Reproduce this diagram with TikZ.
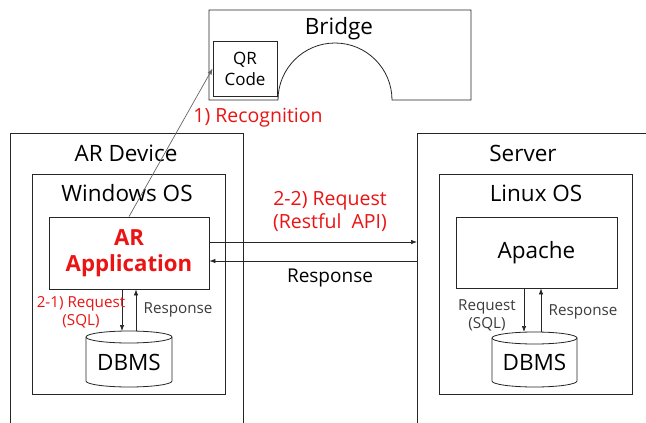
\documentclass[tikz,border=0pt]{standalone}
\usepackage{fontspec}
\setmainfont{Open Sans}
\usetikzlibrary{arrows.meta}
\definecolor{lred}{RGB}{235,20,20}
\definecolor{dgray}{RGB}{60,60,60}
\tikzset{
  box/.style={draw=black!85, line width=0.8pt, fill=white, inner sep=0pt},
  ttl/.style={font=\fontsize{22.5}{26}\selectfont, text=black},
  lbl/.style={font=\fontsize{19.5}{23}\selectfont, align=center},
  sml/.style={font=\fontsize{15.2}{18}\selectfont, align=center},
  arr/.style={draw=black!85, line width=0.7pt, -{Latex[length=6pt,width=4.5pt]}},
  frame/.style={draw=black!85, line width=0.8pt}
}
\begin{document}
\begin{tikzpicture}[x=1pt,y=-1pt]
\useasboundingbox (0,0) rectangle (646,423);
\fill[white] (0,0) rectangle (646,423);
% Bridge outline
\draw[frame] (209,100) -- (209,10) -- (471,10) -- (471,100) -- (392,100)
  arc[start angle=0, end angle=-180, radius=57] -- cycle;
\node[ttl] (bridgeT) at (339,29) {Bridge};
\node[box, minimum width=64, minimum height=55, align=center, font=\fontsize{17}{21}\selectfont] (qr) at (245,68.5) {QR\\Code};
% AR device frame (open at bottom)
\draw[frame] (10,423) -- (10,133) -- (243,133) -- (243,423);
\node[ttl] (ardevT) at (126,153) {AR Device};
\node[box, minimum width=193, minimum height=220] (winos) at (128.5,284) {};
\node[ttl] (winT) at (127,193) {Windows OS};
\node[box, minimum width=160, minimum height=72, align=center, text=lred,
  font=\fontsize{22.2}{26}\selectfont\bfseries] (arapp) at (129,253) {AR\\Application};
% Server frame (open at bottom and right)
\draw[frame] (417,423) -- (417,133) -- (646,133);
\node[ttl] (srvT) at (523,153) {Server};
\node[box, minimum width=193, minimum height=220] (linos) at (535.5,284) {};
\node[ttl] (linT) at (536,193) {Linux OS};
\node[box, minimum width=161, minimum height=71, ttl] (apache) at (536.5,252.5) {Apache};
% DBMS cylinders
\draw[frame, fill=white] (86,337) -- (86,381) arc[start angle=180, end angle=0, x radius=43, y radius=6] -- (172,337);
\draw[frame] (129,337) ellipse[x radius=43, y radius=6];
\node[ttl] (dbmsL) at (129,362) {DBMS};
\draw[frame, fill=white] (492,338) -- (492,381) arc[start angle=180, end angle=0, x radius=42.5, y radius=6] -- (577,338);
\draw[frame] (534.5,338) ellipse[x radius=42.5, y radius=6];
\node[ttl] (dbmsR) at (534.5,362) {DBMS};
% connector end coordinates
\coordinate (dL1) at (122,331);
\coordinate (dL2) at (136,331);
\coordinate (dR1) at (524,332);
\coordinate (dR2) at (541,332);
\coordinate (s1) at (417,242);
\coordinate (s2) at (417,261);
% arrows
\draw[arr, draw=black!60] (arapp.north) -- (qr.west);
\draw[arr] (arapp.south -| dL1) -- (dL1);
\draw[arr] (dL2) -- (arapp.south -| dL2);
\draw[arr] (apache.south -| dR1) -- (dR1);
\draw[arr] (dR2) -- (apache.south -| dR2);
\draw[arr] (arapp.east |- s1) -- (s1);
\draw[arr] (s2) -- (arapp.east |- s2);
% labels
\node[lbl, text=lred] (recog) at (258,118) {1) Recognition};
\node[lbl, text=lred] (req22) at (330,211.5) {2-2) Request\\(Restful\ \ API)};
\node[lbl, text=black, font=\fontsize{19}{23}\selectfont] (resp22) at (330,278) {Response};
\node[sml, text=lred] (req21) at (81,312) {2-1) Request\\(SQL)};
\node[sml, text=dgray] (resp21) at (178,310) {Response};
\node[sml, text=dgray] (reqR) at (487,315) {Request\\(SQL)};
\node[sml, text=dgray] (respR) at (583,312) {Response};
\end{tikzpicture}
\end{document}
